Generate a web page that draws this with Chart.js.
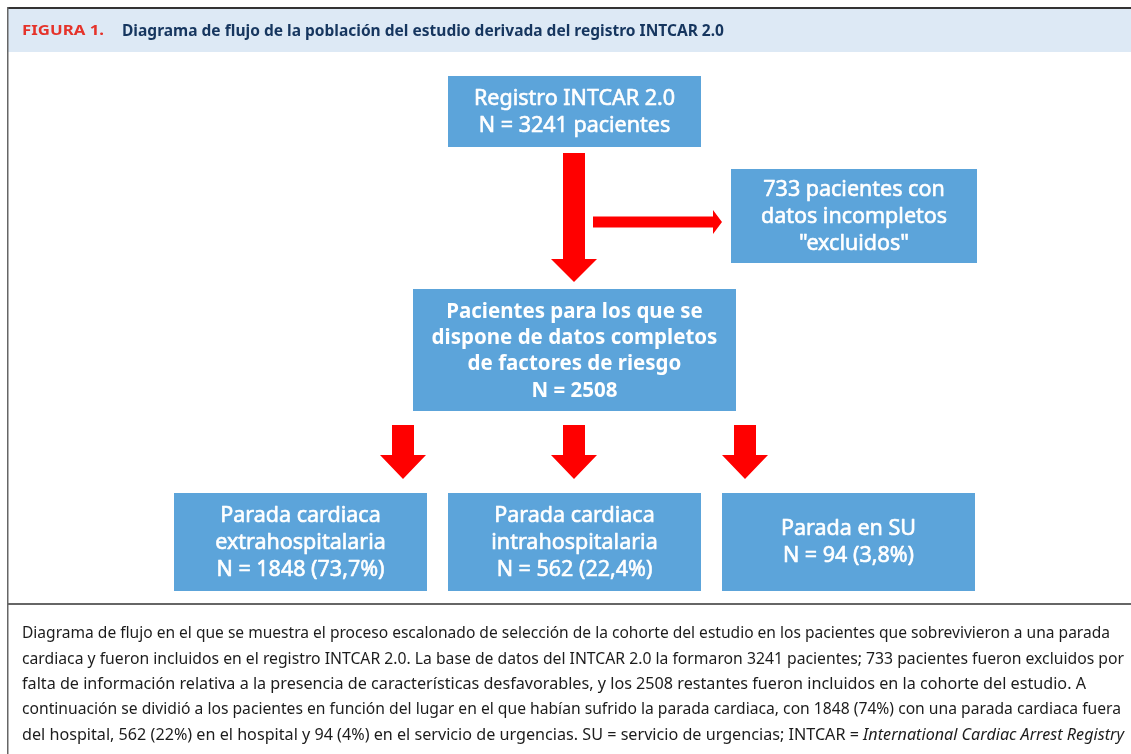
<!DOCTYPE html>
<html>
<head>
<meta charset="utf-8">
<script src="https://cdn.jsdelivr.net/npm/chart.js@4/dist/chart.umd.min.js"></script>
<style>
  html, body { margin: 0; padding: 0; background: #fff; }
  #wrap { width: 1131px; height: 754px; }
</style>
</head>
<body>
<div id="wrap"><canvas id="flow"></canvas></div>
<script>
// figure texts
const figureLabel = "FIGURA 1.";
const figureTitle = "Diagrama de flujo de la población del estudio derivada del registro INTCAR 2.0";

// flow nodes: counts and percentages
const nodeIds = ["registro", "excluidos", "completos", "extra", "intra", "su"];
const nodeCounts = [3241, 733, 2508, 1848, 562, 94];
const nodePcts = [null, null, null, "73,7", "22,4", "3,8"];
const nodeHeads = [
  ["Registro INTCAR 2.0"],
  ["733 pacientes con", "datos incompletos", "\"excluidos\""],
  ["Pacientes para los que se", "dispone de datos completos", "de factores de riesgo"],
  ["Parada cardiaca", "extrahospitalaria"],
  ["Parada cardiaca", "intrahospitalaria"],
  ["Parada en SU"]
];
const nodeBold = [false, false, true, false, false, false];

// edges between nodes
const edgeFrom = ["registro", "registro", "completos", "completos", "completos"];
const edgeTo = ["completos", "excluidos", "extra", "intra", "su"];

const captionLines = [
  "Diagrama de flujo en el que se muestra el proceso escalonado de selección de la cohorte del estudio en los pacientes que sobrevivieron a una parada",
  "cardiaca y fueron incluidos en el registro INTCAR 2.0. La base de datos del INTCAR 2.0 la formaron 3241 pacientes; 733 pacientes fueron excluidos por",
  "falta de información relativa a la presencia de características desfavorables, y los 2508 restantes fueron incluidos en la cohorte del estudio. A",
  "continuación se dividió a los pacientes en función del lugar en el que habían sufrido la parada cardiaca, con 1848 (74%) con una parada cardiaca fuera",
  "del hospital, 562 (22%) en el hospital y 94 (4%) en el servicio de urgencias. SU = servicio de urgencias; INTCAR = "
];
const captionItalic = "International Cardiac Arrest Registry";

// layout (in scale units, same as pixels here)
const layout = {
  registro: [448, 76, 701, 147],
  excluidos: [731, 169, 977, 263],
  completos: [413, 289, 736, 411],
  extra: [174, 493, 427, 591],
  intra: [448, 493, 701, 591],
  su: [722, 493, 975, 591]
};
const captionEnds = [1110, 1124, 1086, 1121, 1124];

const BLUE = "#5ca4da";
const RED = "#ff0000";

function nodeLines(i) {
  const lines = nodeHeads[i].slice();
  if (nodeIds[i] === "registro") lines.push("N = " + nodeCounts[i] + " pacientes");
  else if (nodeIds[i] === "completos") lines.push("N = " + nodeCounts[i]);
  else if (nodePcts[i]) lines.push("N = " + nodeCounts[i] + " (" + nodePcts[i] + "%)");
  return lines;
}

function fitText(ctx, text, x, y, w) {
  const m = ctx.measureText(text).width;
  ctx.save();
  ctx.translate(x, y);
  ctx.scale(w / m, 1);
  ctx.fillText(text, 0, 0);
  ctx.restore();
}

const flowPlugin = {
  id: "flow",
  afterDraw(chart) {
    const ctx = chart.ctx;
    const xs = chart.scales.x, ys = chart.scales.y;
    const px = v => xs.getPixelForValue(v);
    const py = v => ys.getPixelForValue(v);
    ctx.save();

    // frame and header band
    ctx.fillStyle = "#dde9f5";
    ctx.fillRect(px(8), py(9), px(1131) - px(8), py(52) - py(9));
    ctx.fillStyle = "#333";
    ctx.fillRect(px(7), py(7), px(1131) - px(7), 2);
    ctx.fillStyle = "#666";
    ctx.fillRect(px(7), py(7), 1.5, py(754) - py(7));
    ctx.fillRect(px(7), py(603), px(1131) - px(7), 2);

    ctx.textBaseline = "middle";
    ctx.textAlign = "left";
    ctx.fillStyle = "#e5332a";
    ctx.font = "bold 14px 'Noto Sans'";
    fitText(ctx, figureLabel, px(22), py(31), 82);
    ctx.fillStyle = "#16365f";
    ctx.font = "bold 16px 'Noto Sans'";
    fitText(ctx, figureTitle, px(122), py(31), 602);

    // arrows
    ctx.fillStyle = RED;
    edgeFrom.forEach((f, k) => {
      const a = layout[f], b = layout[edgeTo[k]];
      ctx.beginPath();
      if (f === "registro" && edgeTo[k] === "completos") {
        const cx = (a[0] + a[2]) / 2 - 0.5;
        downArrow(ctx, px, py, cx, a[3] + 6, b[1] - 7, 22, 46, 23);
      } else if (edgeTo[k] === "excluidos") {
        const cy = (b[1] + b[3]) / 2 + 6;
        const x0 = (a[0] + a[2]) / 2 + 18.5;
        ctx.moveTo(px(x0), py(cy - 5.5));
        ctx.lineTo(px(b[0] - 18), py(cy - 5.5));
        ctx.lineTo(px(b[0] - 18), py(cy - 12));
        ctx.lineTo(px(b[0] - 9), py(cy));
        ctx.lineTo(px(b[0] - 18), py(cy + 12));
        ctx.lineTo(px(b[0] - 18), py(cy + 5.5));
        ctx.lineTo(px(x0), py(cy + 5.5));
      } else {
        const cx = edgeTo[k] === "extra" ? 403 : edgeTo[k] === "intra" ? 574 : 745;
        downArrow(ctx, px, py, cx, a[3] + 14, b[1] - 14, 22, 46, 24);
      }
      ctx.closePath();
      ctx.fill();
    });

    // boxes
    nodeIds.forEach((id, i) => {
      const r = layout[id];
      ctx.fillStyle = BLUE;
      ctx.fillRect(px(r[0]), py(r[1]), px(r[2]) - px(r[0]), py(r[3]) - py(r[1]));
      const lines = nodeLines(i);
      const step = id === "completos" ? 26.3 : 27;
      const cy = (r[1] + r[3]) / 2 + (nodeBold[i] ? 1.5 : 0.5);
      ctx.fillStyle = "#fff";
      ctx.strokeStyle = "#fff";
      ctx.lineWidth = 0.6;
      ctx.lineJoin = "round";
      ctx.textAlign = "center";
      ctx.font = nodeBold[i] ? "bold 20.5px 'Noto Sans'" : "21.5px 'Noto Sans'";
      lines.forEach((t, j) => {
        const y = cy + (j - (lines.length - 1) / 2) * step;
        ctx.fillText(t, px((r[0] + r[2]) / 2), py(y));
        if (!nodeBold[i]) ctx.strokeText(t, px((r[0] + r[2]) / 2), py(y));
      });
    });

    // caption
    ctx.fillStyle = "#1c1c1c";
    ctx.textAlign = "left";
    captionLines.forEach((t, j) => {
      const y = 634 + j * 25.3;
      ctx.font = "15.5px 'Noto Sans'";
      if (j < captionLines.length - 1) {
        fitText(ctx, t, px(22), py(y), captionEnds[j] - 22);
      } else {
        const w1 = ctx.measureText(t).width;
        ctx.font = "italic 15.5px 'Noto Sans'";
        const w2 = ctx.measureText(captionItalic).width;
        const s = (captionEnds[j] - 22) / (w1 + w2);
        ctx.save();
        ctx.translate(px(22), py(y));
        ctx.scale(s, 1);
        ctx.font = "15.5px 'Noto Sans'";
        ctx.fillText(t, 0, 0);
        ctx.font = "italic 15.5px 'Noto Sans'";
        ctx.fillText(captionItalic, w1, 0);
        ctx.restore();
      }
    });
    ctx.restore();
  }
};

function downArrow(ctx, px, py, cx, y0, y1, sw, hw, hl) {
  ctx.moveTo(px(cx - sw / 2), py(y0));
  ctx.lineTo(px(cx + sw / 2), py(y0));
  ctx.lineTo(px(cx + sw / 2), py(y1 - hl));
  ctx.lineTo(px(cx + hw / 2), py(y1 - hl));
  ctx.lineTo(px(cx), py(y1));
  ctx.lineTo(px(cx - hw / 2), py(y1 - hl));
  ctx.lineTo(px(cx - sw / 2), py(y1 - hl));
  ctx.lineTo(px(cx - sw / 2), py(y0));
}

new Chart(document.getElementById("flow"), {
  type: "scatter",
  data: { datasets: [{ data: [], pointRadius: 0 }] },
  options: {
    responsive: true,
    maintainAspectRatio: false,
    animation: false,
    layout: { padding: 0 },
    scales: {
      x: { type: "linear", min: 0, max: 1131, display: false },
      y: { type: "linear", min: 0, max: 754, reverse: true, display: false }
    },
    plugins: { legend: { display: false }, tooltip: { enabled: false } }
  },
  plugins: [flowPlugin]
});
</script>
</body>
</html>
